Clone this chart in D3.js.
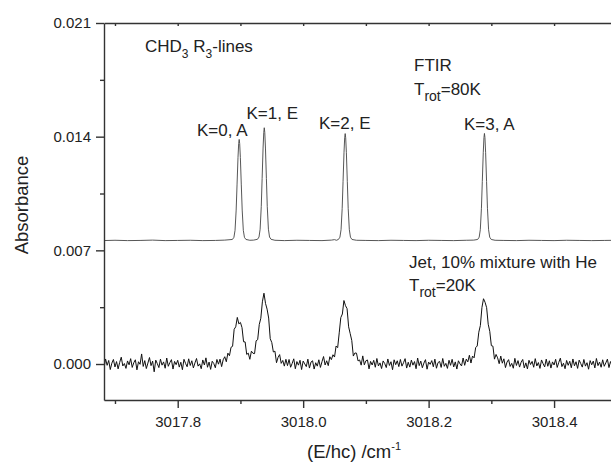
<!DOCTYPE html>
<html>
<head>
<meta charset="utf-8">
<script src="https://cdn.jsdelivr.net/npm/d3@7"></script>
<style>
  body { margin: 0; background: #fff; }
  svg { display: block; font-family: "Liberation Sans", Arial, sans-serif; }
  .axis path, .axis line { stroke: #333; stroke-width: 1.4; }
  .axis text { font-family: "Liberation Sans", Arial, sans-serif; font-size: 15px; fill: #222; }
  .note { font-size: 17px; fill: #222; }
</style>
</head>
<body>
<svg id="chart" width="611" height="463"></svg>
<script>
// tick values
var yMajor = [0, 0.007, 0.014, 0.021];
var yMinor = [0.0035, 0.0105, 0.0175];
var xMajor = [3017.8, 3018.0, 3018.2, 3018.4];
var xMinor = [3017.7, 3017.9, 3018.1, 3018.3, 3018.5];

// FTIR spectrum, [wavenumber cm-1, absorbance in 1e-3]
var ftirPoints = [
  [3017.680, 7.60], [3017.700, 7.62], [3017.720, 7.60], [3017.740, 7.61],
  [3017.760, 7.63], [3017.780, 7.60], [3017.800, 7.61], [3017.820, 7.62],
  [3017.840, 7.60], [3017.860, 7.61], [3017.875, 7.63],
  // K=0
  [3017.8872, 7.67], [3017.8896, 7.80], [3017.8914, 8.23], [3017.8932, 9.48],
  [3017.8946, 11.03], [3017.8961, 12.71], [3017.8972, 13.58], [3017.8980, 13.83],
  [3017.8988, 13.58], [3017.8999, 12.71], [3017.9014, 11.03], [3017.9028, 9.48],
  [3017.9046, 8.23], [3017.9064, 7.80], [3017.9088, 7.67],
  [3017.9150, 7.62], [3017.9210, 7.63],
  // K=1
  [3017.9272, 7.68], [3017.9296, 7.82], [3017.9314, 8.30], [3017.9332, 9.69],
  [3017.9346, 11.43], [3017.9361, 13.30], [3017.9372, 14.27], [3017.9380, 14.55],
  [3017.9388, 14.27], [3017.9399, 13.30], [3017.9414, 11.43], [3017.9428, 9.69],
  [3017.9446, 8.30], [3017.9464, 7.82], [3017.9488, 7.68],
  [3017.955, 7.62], [3017.970, 7.60], [3017.990, 7.62], [3018.010, 7.61],
  [3018.030, 7.60], [3018.045, 7.63], [3018.050, 7.66], [3018.053, 7.62],
  // K=2
  [3018.0562, 7.67], [3018.0586, 7.81], [3018.0604, 8.27], [3018.0622, 9.58],
  [3018.0636, 11.23], [3018.0651, 13.01], [3018.0662, 13.93], [3018.0670, 14.19],
  [3018.0678, 13.93], [3018.0689, 13.01], [3018.0704, 11.23], [3018.0718, 9.58],
  [3018.0736, 8.27], [3018.0754, 7.81], [3018.0778, 7.67],
  [3018.085, 7.62], [3018.100, 7.61], [3018.120, 7.60], [3018.140, 7.62],
  [3018.160, 7.61], [3018.180, 7.60], [3018.200, 7.62], [3018.220, 7.61],
  [3018.240, 7.60], [3018.260, 7.62], [3018.272, 7.63],
  // K=3
  [3018.2782, 7.67], [3018.2806, 7.81], [3018.2824, 8.27], [3018.2842, 9.59],
  [3018.2856, 11.24], [3018.2871, 13.01], [3018.2882, 13.94], [3018.2890, 14.20],
  [3018.2898, 13.94], [3018.2909, 13.01], [3018.2924, 11.24], [3018.2938, 9.59],
  [3018.2956, 8.27], [3018.2974, 7.81], [3018.2998, 7.67],
  [3018.306, 7.62], [3018.320, 7.61], [3018.340, 7.60], [3018.360, 7.62],
  [3018.380, 7.61], [3018.400, 7.60], [3018.420, 7.62], [3018.440, 7.61],
  [3018.460, 7.60], [3018.480, 7.61], [3018.500, 7.62]
];

// jet spectrum, sampled every 0.0025 cm-1 from 3017.68, absorbance in 1e-3
var jetStart = 3017.68;
var jetStep = 0.0025;
var jetAbs = [
  0.12, -0.25, 0.31, -0.08, 0.22, -0.34, 0.05, 0.28, -0.18, 0.15,
  -0.30, 0.10, 0.42, -0.12, 0.03, -0.27, 0.19, -0.05, 0.33, -0.21,
  0.08, 0.26, -0.36, 0.14, -0.02, 0.62, -0.15, 0.21, -0.28, 0.06,
  0.40, -0.10, 0.18, -0.48, 0.24, 0.02, -0.22, 0.30, -0.07, 0.13,
  -0.26, 0.37, -0.14, 0.09, 0.27, -0.31, 0.16, -0.04, 0.23, -0.19,
  0.11, -0.35, 0.29, 0.04, -0.17, 0.32, -0.09, 0.20, -0.24, 0.07,
  0.34, -0.13, 0.01, -0.29, 0.25, -0.06, 0.38, -0.20, 0.12, -0.33,
  0.17, 0.03, -0.23, 0.28, -0.01, 0.30, -0.16, 0.26, 0.45, 0.14,
  0.67, 0.51, 1.03, 1.09, 2.14, 2.29, 2.87, 2.47, 2.56, 2.24,
  1.37, 1.36, 0.59, 0.67, 0.29, 0.79, 0.66, 0.64, 1.43, 1.50,
  2.43, 2.82, 3.83, 4.36, 3.73, 3.38, 2.83, 1.56, 1.32, 0.74,
  0.79, 0.08, 0.41, 0.58, 0.04, 0.22, -0.13, 0.29, -0.10, 0.28,
  -0.20, 0.04, 0.32, -0.29, 0.15, -0.07, 0.23, -0.34, 0.18, 0.01,
  -0.16, 0.30, -0.25, 0.12, 0.20, -0.31, 0.08, -0.13, 0.26, -0.21,
  0.14, 0.46, -0.06, 0.20, -0.10, 0.45, 0.27, 0.57, 0.43, 1.11,
  1.01, 1.92, 2.86, 3.08, 3.91, 3.59, 3.41, 2.29, 1.87, 1.45,
  0.49, 0.68, 0.67, 0.19, 0.25, -0.07, 0.50, -0.05, 0.20, 0.25,
  -0.30, 0.16, -0.06, 0.23, -0.20, 0.34, -0.12, 0.07, -0.28, 0.19,
  0.03, -0.22, 0.31, -0.09, 0.14, -0.35, 0.26, -0.04, 0.20, -0.16,
  0.28, -0.13, 0.08, 0.33, -0.25, 0.11, -0.19, 0.24, -0.07, 0.15,
  -0.29, 0.37, -0.10, 0.18, -0.23, 0.06, 0.27, -0.32, 0.12, -0.02,
  0.21, -0.17, 0.30, -0.26, 0.09, 0.16, -0.21, 0.34, -0.14, 0.04,
  -0.27, 0.23, -0.08, 0.29, -0.18, 0.13, -0.31, 0.20, 0.01, -0.12,
  0.37, -0.08, 0.30, 0.13, 0.54, 0.06, 0.49, 0.38, 1.01, 1.11,
  1.96, 2.37, 3.48, 4.02, 3.80, 3.47, 2.45, 2.01, 1.13, 1.10,
  0.30, 0.59, 0.38, 0.02, 0.49, 0.05, 0.32, -0.22, 0.12, 0.27,
  -0.15, 0.04, -0.26, 0.35, -0.09, 0.21, -0.19, 0.11, 0.28, -0.24,
  0.07, -0.30, 0.23, -0.03, 0.16, -0.20, 0.33, -0.12, 0.09, -0.27,
  0.25, 0.02, -0.18, 0.30, -0.14, 0.20, -0.25, 0.13, -0.06, 0.29,
  -0.21, 0.10, 0.36, -0.16, 0.05, -0.29, 0.22, -0.08, 0.17, -0.23,
  0.31, -0.11, 0.14, -0.27, 0.24, 0.03, -0.19, 0.28, -0.13, 0.08,
  -0.32, 0.21, -0.05, 0.18, -0.24, 0.34, -0.10, 0.12, -0.20, 0.26,
  -0.14, 0.07, 0.30, -0.22, 0.15, -0.09, 0.23, -0.17, 0.11
];

var svg = d3.select("#chart");

var mLeft = 104, mTop = 23, mBottom = 400;

var x = d3.scaleLinear()
  .domain([3017.6825, 3018.5])
  .range([mLeft, 616.8]);

var y = d3.scaleLinear()
  .domain([-0.002216, 0.021])
  .range([mBottom, mTop]);

svg.append("defs").append("clipPath")
  .attr("id", "plot")
  .append("rect")
  .attr("x", mLeft).attr("y", mTop)
  .attr("width", 620 - mLeft).attr("height", mBottom - mTop);

var line = d3.line()
  .x(d => x(d[0]))
  .y(d => y(d[1] / 1000));

var jetPoints = jetAbs.map((v, i) => [jetStart + i * jetStep, v]);

var plot = svg.append("g").attr("clip-path", "url(#plot)");

plot.append("path")
  .datum(ftirPoints)
  .attr("fill", "none")
  .attr("stroke", "#444")
  .attr("stroke-width", 0.9)
  .attr("d", line);

plot.append("path")
  .datum(jetPoints)
  .attr("fill", "none")
  .attr("stroke", "#111")
  .attr("stroke-width", 1)
  .attr("d", line);

// axes
svg.append("g")
  .attr("class", "axis")
  .attr("transform", "translate(" + mLeft + ",0)")
  .call(d3.axisLeft(y).tickValues(yMajor).tickFormat(d3.format(".3f"))
    .tickSize(8).tickSizeOuter(0).tickPadding(5));

svg.append("g")
  .attr("class", "axis")
  .attr("transform", "translate(" + mLeft + ",0)")
  .call(d3.axisLeft(y).tickValues(yMinor).tickFormat("").tickSize(4).tickSizeOuter(0))
  .select(".domain").remove();

svg.append("g")
  .attr("class", "axis")
  .attr("transform", "translate(0," + mBottom + ")")
  .call(d3.axisBottom(x).tickValues(xMajor).tickFormat(d3.format(".1f"))
    .tickSize(8).tickSizeOuter(0).tickPadding(8));

svg.append("g")
  .attr("class", "axis")
  .attr("transform", "translate(0," + mBottom + ")")
  .call(d3.axisBottom(x).tickValues(xMinor).tickFormat("").tickSize(4).tickSizeOuter(0))
  .select(".domain").remove();

svg.append("g")
  .attr("class", "axis")
  .attr("transform", "translate(0," + mTop + ")")
  .call(d3.axisTop(x).tickValues(xMajor.concat(xMinor)).tickFormat("")
    .tickSize(-3).tickSizeOuter(0));

// axis titles
svg.append("text")
  .attr("transform", "translate(28,205) rotate(-90)")
  .attr("text-anchor", "middle")
  .attr("font-size", 18.5)
  .attr("fill", "#222")
  .text("Absorbance");

var xt = svg.append("text")
  .attr("x", 307)
  .attr("y", 458)
  .attr("font-size", 18.5)
  .attr("fill", "#222");
xt.append("tspan").text("(E/hc) /cm");
xt.append("tspan").attr("font-size", 11).attr("dy", -8).text("-1");

// annotations
var t1 = svg.append("text").attr("class", "note").attr("x", 145).attr("y", 51.5);
t1.append("tspan").text("CHD");
t1.append("tspan").attr("font-size", 12).attr("dy", 6).text("3");
t1.append("tspan").attr("dy", -6).text(" R");
t1.append("tspan").attr("font-size", 12).attr("dy", 6).text("3");
t1.append("tspan").attr("dy", -6).text("-lines");

svg.append("text").attr("class", "note").attr("x", 414).attr("y", 71).text("FTIR");

var t2 = svg.append("text").attr("class", "note").attr("x", 414).attr("y", 95);
t2.append("tspan").text("T");
t2.append("tspan").attr("font-size", 14).attr("dy", 6).text("rot");
t2.append("tspan").attr("dy", -6).text("=80K");

var kLabels = [
  { text: "K=0, A", x: 197, y: 136 },
  { text: "K=1, E", x: 246.5, y: 119 },
  { text: "K=2, E", x: 319, y: 129 },
  { text: "K=3, A", x: 464, y: 130 }
];
svg.selectAll(".klab")
  .data(kLabels)
  .enter()
  .append("text")
  .attr("class", "note klab")
  .attr("x", d => d.x)
  .attr("y", d => d.y)
  .text(d => d.text);

svg.append("text").attr("class", "note").attr("x", 409).attr("y", 268)
  .text("Jet, 10% mixture with He");

var t3 = svg.append("text").attr("class", "note").attr("x", 409).attr("y", 291);
t3.append("tspan").text("T");
t3.append("tspan").attr("font-size", 14).attr("dy", 6).text("rot");
t3.append("tspan").attr("dy", -6).text("=20K");
</script>
</body>
</html>
